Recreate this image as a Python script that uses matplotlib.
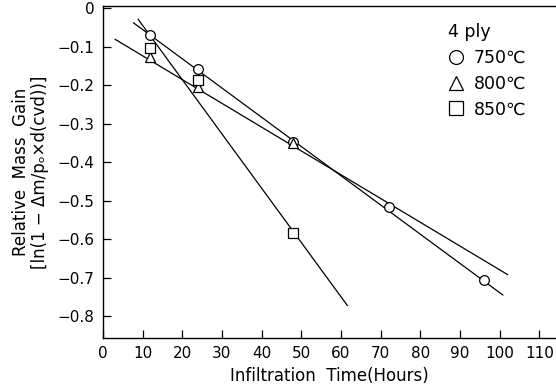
import matplotlib
matplotlib.use("Agg")
import matplotlib.pyplot as plt
from matplotlib.lines import Line2D

# measured points (hours, ln value)
hours = [12, 24, 48, 72, 96]
gain_750 = [-0.070, -0.159, -0.347, -0.516, -0.705]
hours_800 = [12, 24, 48]
gain_800 = [-0.128, -0.206, -0.350]
hours_850 = [12, 24, 48]
gain_850 = [-0.103, -0.187, -0.585]

# fitted lines, end points
fit_x_750 = [7.7, 100.8]
fit_y_750 = [-0.038, -0.745]
fit_x_800 = [3.1, 102.0]
fit_y_800 = [-0.081, -0.692]
fit_x_850 = [8.9, 61.6]
fit_y_850 = [-0.029, -0.772]

x_ticks = [0, 10, 20, 30, 40, 50, 60, 70, 80, 90, 100, 110]
y_ticks = [0, -0.1, -0.2, -0.3, -0.4, -0.5, -0.6, -0.7, -0.8]
legend_labels = ["750℃", "800℃", "850℃"]

plt.rcParams["font.family"] = ["DejaVu Sans"]

fig = plt.figure(figsize=(5.56, 3.9), dpi=100)
ax = fig.add_axes([0.185, 0.133, 0.815, 0.852])

line_kw = dict(color="black", lw=0.9, zorder=2)
ax.plot(fit_x_750, fit_y_750, **line_kw)
ax.plot(fit_x_800, fit_y_800, **line_kw)
ax.plot(fit_x_850, fit_y_850, **line_kw)

mk = dict(ls="none", mfc="white", mec="black", mew=0.9, ms=7, zorder=3)
ax.plot(hours, gain_750, marker="o", **mk)
ax.plot(hours_800, gain_800, marker="^", **mk)
ax.plot(hours_850, gain_850, marker="s", **mk)

ax.set_xlim(0, 114.2)
ax.set_ylim(-0.857, 0.006)
ax.set_xticks(x_ticks)
ax.set_xticklabels([str(t) for t in x_ticks])
ax.set_yticks(y_ticks)
ax.set_yticklabels(["0"] + ["\u22120.%d" % i for i in range(1, 9)])
ax.tick_params(direction="in", length=6, width=0.9, labelsize=11, pad=6)
ax.spines["right"].set_visible(False)
for s in ["left", "bottom", "top"]:
    ax.spines[s].set_linewidth(1.0)

ax.set_xlabel("Infiltration  Time(Hours)", fontsize=12, labelpad=4)
ax.set_ylabel("Relative  Mass  Gain\n[ln(1 \u2212 \u0394m/p\u2092\u00d7d(cvd))]",
              fontsize=12, labelpad=6, linespacing=1.1)

# legend: "4 ply" heading, open markers flush left under it
handles = [Line2D([], [], marker=m, ls="none", mfc="white", mec="black", mew=0.9, ms=10)
           for m in ["o", "^", "s"]]
leg = ax.legend(handles, legend_labels, title="4 ply", loc="upper left",
                bbox_to_anchor=(0.735, 0.985), frameon=False, fontsize=12.5,
                title_fontsize=12.5, handlelength=0.9, handletextpad=0.6,
                labelspacing=0.45, borderaxespad=0.3)
leg._legend_box.align = "left"

fig.savefig("out.png", dpi=100)
